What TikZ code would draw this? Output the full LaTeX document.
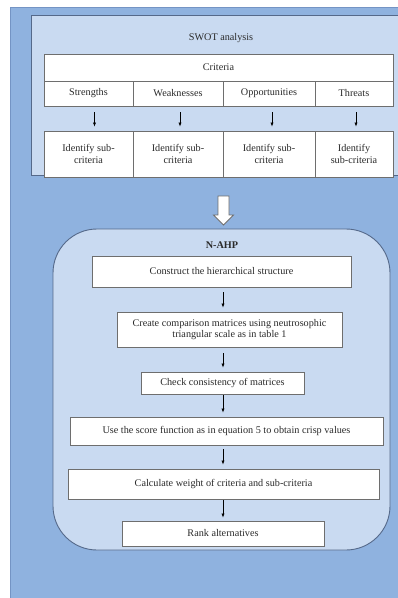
\documentclass[tikz,border=0pt]{standalone}
\usepackage{fontspec}
\setmainfont{Liberation Serif}
\usetikzlibrary{arrows.meta}
\definecolor{panel}{HTML}{8FB2DF}
\definecolor{paneledge}{HTML}{7494C4}
\definecolor{lightbox}{HTML}{C9DAF1}
\definecolor{boxedge}{HTML}{55698A}
\definecolor{celledge}{HTML}{6E6E6E}
\definecolor{txt}{HTML}{2A2A2A}
\tikzset{
  cell/.style={draw=celledge, line width=0.9pt, fill=white, inner sep=1pt,
    font=\fontsize{10.2}{11.5}\selectfont, text=txt, align=center},
  label/.style={font=\fontsize{10.2}{11.5}\selectfont, text=txt},
  arr/.style={-{Latex[length=4pt,width=3.2pt]}, line width=0.6pt, black},
  hollow/.style={draw=celledge, line width=0.8pt, fill=white}
}
\begin{document}
\begin{tikzpicture}[x=1pt,y=-1pt]
\useasboundingbox (0,0) rectangle (398,598);
\fill[white] (0,0) rectangle (398,598);
% outer panel
\fill[panel] (10,7) rectangle (400,600);
\draw[paneledge, line width=1.2pt] (10.6,600) -- (10.6,7.6) -- (400,7.6);
% SWOT box
\draw[boxedge, fill=lightbox, line width=0.9pt] (400,15) -- (31,15) -- (31,175) -- (400,175);
\node[label] (swot) at (221,38) {SWOT analysis};
% criteria table
\node[cell, minimum width=349, minimum height=27] (crit) at (218.5,67.5) {Criteria};
\node[cell, minimum width=89, minimum height=25] (s1) at (88.5,93.5) {Strengths};
\node[cell, minimum width=90, minimum height=25] (s2) at (178,93.5) {Weaknesses};
\node[cell, minimum width=92, minimum height=25] (s3) at (269,93.5) {Opportunities};
\node[cell, minimum width=78, minimum height=25] (s4) at (354,93.5) {Threats};
\node[cell, minimum width=89, minimum height=46] (i1) at (88.5,154) {Identify sub-\\criteria};
\node[cell, minimum width=90, minimum height=46] (i2) at (178,154) {Identify sub-\\criteria};
\node[cell, minimum width=92, minimum height=46] (i3) at (269,154) {Identify sub-\\criteria};
\node[cell, minimum width=78, minimum height=46] (i4) at (354,154) {Identify\\sub-criteria};
\draw[arr, shorten <=6pt, shorten >=4pt] ([xshift=6pt]s1.south) -- ([xshift=6pt]i1.north);
\draw[arr, shorten <=6pt, shorten >=4pt] ([xshift=2pt]s2.south) -- ([xshift=2pt]i2.north);
\draw[arr, shorten <=6pt, shorten >=4pt] ([xshift=3pt]s3.south) -- ([xshift=3pt]i3.north);
\draw[arr, shorten <=6pt, shorten >=4pt] ([xshift=2pt]s4.south) -- ([xshift=2pt]i4.north);
% hollow arrow
\draw[hollow] (218,196) -- (229,196) -- (229,215) -- (233.5,215) -- (223.5,225) -- (213.5,215) -- (218,215) -- cycle;
% N-AHP box
\draw[boxedge, fill=lightbox, line width=0.9pt, rounded corners=44pt] (53,229) rectangle (390,550);
\node[label, font=\fontsize{10.2}{11.5}\selectfont\bfseries] (nahp) at (222,245) {N-AHP};
\coordinate (ax) at (223,0);
\node[cell, minimum width=259, minimum height=31] (b1) at (221.5,271.5) {Construct the hierarchical structure};
\node[cell, minimum width=225, minimum height=35] (b2) at (229.5,329.5) {Create comparison matrices using neutrosophic\\triangular scale as in table 1};
\node[cell, minimum width=163, minimum height=22] (b3) at (222.5,383) {Check consistency of matrices};
\node[cell, minimum width=313, minimum height=28] (b4) at (226.5,431) {Use the score function as in equation 5 to obtain crisp values};
\node[cell, minimum width=311, minimum height=30] (b5) at (223.5,484) {Calculate weight of criteria and sub-criteria};
\node[cell, minimum width=202, minimum height=25] (b6) at (223,533.5) {Rank alternatives};
\draw[arr, shorten <=5pt, shorten >=4pt] (b1.south -| ax) -- (b2.north -| ax);
\draw[arr, shorten <=6pt, shorten >=4pt] (b2.south -| ax) -- (b3.north -| ax);
\draw[arr, shorten <=1pt, shorten >=4pt] (b3.south -| ax) -- (b4.north -| ax);
\draw[arr, shorten <=4pt, shorten >=4pt] (b4.south -| ax) -- (b5.north -| ax);
\draw[arr, shorten <=1pt, shorten >=3pt] (b5.south -| ax) -- (b6.north -| ax);
\end{tikzpicture}
\end{document}
